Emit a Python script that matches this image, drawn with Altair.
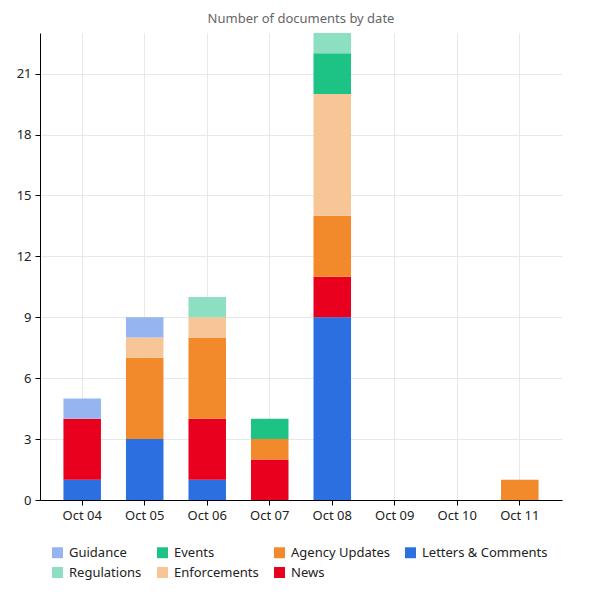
import altair as alt
import pandas as pd

dates = ["Oct 04", "Oct 05", "Oct 06", "Oct 07", "Oct 08", "Oct 09", "Oct 10", "Oct 11"]
categories = ["Letters & Comments", "News", "Agency Updates", "Enforcements", "Events", "Regulations", "Guidance"]
legend_order = ["Guidance", "Regulations", "Events", "Enforcements", "Agency Updates", "News", "Letters & Comments"]
colors = {
    "Guidance": "#96b4f0",
    "Events": "#1dc385",
    "Agency Updates": "#f28a2b",
    "Letters & Comments": "#2c6fe0",
    "Regulations": "#8ddfc2",
    "Enforcements": "#f8c597",
    "News": "#e8001e",
}

letters = [1, 3, 1, 0, 9, 0, 0, 0]
news = [3, 0, 3, 2, 2, 0, 0, 0]
agency = [0, 4, 4, 1, 3, 0, 0, 1]
enforcements = [0, 1, 1, 0, 6, 0, 0, 0]
events = [0, 0, 0, 1, 2, 0, 0, 0]
regulations = [0, 0, 1, 0, 1, 0, 0, 0]
guidance = [1, 1, 0, 0, 0, 0, 0, 0]

series = [letters, news, agency, enforcements, events, regulations, guidance]
rows = []
for ci, (cat, vals) in enumerate(zip(categories, series)):
    for d, v in zip(dates, vals):
        if v > 0:
            rows.append({"date": d, "category": cat, "count": v, "order": ci})
df = pd.DataFrame(rows)

font = "Noto Sans"

chart = alt.Chart(df).mark_bar().encode(
    x=alt.X("date:N", sort=dates, scale=alt.Scale(domain=dates, paddingInner=0.4, paddingOuter=0.375),
            axis=alt.Axis(title=None, labelAngle=0, grid=True)),
    y=alt.Y("count:Q", stack="zero", scale=alt.Scale(domain=[0, 23], nice=False),
            axis=alt.Axis(title=None, values=[0, 3, 6, 9, 12, 15, 18, 21], grid=True)),
    color=alt.Color("category:N",
                    scale=alt.Scale(domain=legend_order, range=[colors[c] for c in legend_order]),
                    legend=alt.Legend(title=None, orient="none", legendX=11, legendY=513, columns=4,
                                      symbolType="square", symbolSize=120, symbolStrokeWidth=0,
                                      labelFontSize=13, labelFont=font, labelColor="#222",
                                      columnPadding=14, rowPadding=6, labelOffset=5)),
    order=alt.Order("order:Q", sort="ascending"),
).properties(
    width=522, height=467,
    title=alt.TitleParams("Number of documents by date", fontSize=13, font=font, color="#666",
                          fontWeight="normal", offset=7),
    padding={"left": 8, "top": 5, "right": 10, "bottom": 5},
).configure_axis(
    labelFont=font, labelFontSize=13, labelColor="#222", domainColor="#000", tickColor="#000",
    gridColor="#e8e8e8", tickSize=5, labelPadding=4,
).configure_view(stroke=None)

chart.save("out.html", embed_options={"renderer": "svg", "actions": False})
